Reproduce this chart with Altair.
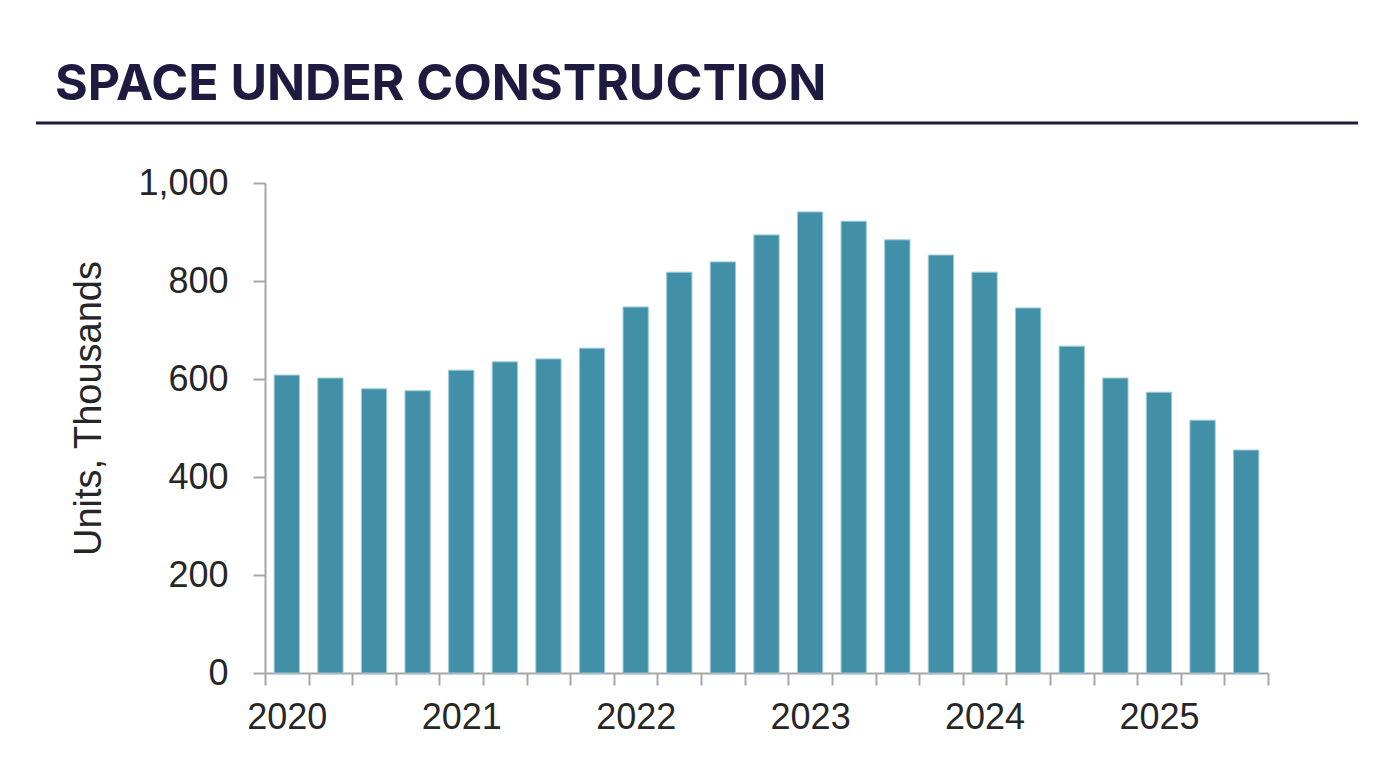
import altair as alt
import pandas as pd

quarters = [f"{y}Q{q}" for y in range(2020, 2026) for q in range(1, 5)][:23]
units = [608, 602, 580, 576, 618, 635, 641, 663, 747, 818, 839, 894,
         941, 922, 884, 853, 818, 745, 667, 602, 573, 516, 455]

df = pd.DataFrame({"quarter": quarters, "units": units})

TXT = "#262626"
GRID = "#A6A6A6"
NAVY = "#1E1A40"

bars = alt.Chart(df).mark_bar(color="#4190A8", stroke="#9CCBD8", strokeWidth=1,
                              width=alt.RelativeBandSize(0.58)).encode(
    x=alt.X("quarter:O", sort=quarters,
            scale=alt.Scale(paddingInner=0, paddingOuter=0),
            axis=alt.Axis(title=None, labelAngle=0, tickBand="extent",
                          labelExpr="indexof(datum.label,'Q1')>=0 ? slice(datum.label,0,4) : ''",
                          labelFont="Liberation Sans", labelFontSize=36, labelColor=TXT,
                          labelPadding=15, tickSize=12, tickWidth=2, tickColor=GRID,
                          domainColor=GRID, domainWidth=2)),
    y=alt.Y("units:Q", scale=alt.Scale(domain=[0, 1000]),
            axis=alt.Axis(title="Units, Thousands", values=[0, 200, 400, 600, 800, 1000],
                          format=",d", grid=False,
                          labelFont="Liberation Sans", labelFontSize=36, labelColor=TXT,
                          labelPadding=25, tickSize=12, tickWidth=2, tickColor=GRID,
                          domainColor=GRID, domainWidth=2,
                          titleFont="Liberation Sans", titleFontSize=38, titleFontWeight="normal",
                          titleColor=TXT, titleAngle=-90, titleX=-165, titleY=225,
                          titleBaseline="alphabetic", titleAlign="center")),
)

title = alt.Chart(pd.DataFrame({"t": ["SPACE UNDER CONSTRUCTION"]})).mark_text(
    font="Inter", fontSize=50, fontWeight=700, color=NAVY, align="left", baseline="alphabetic"
).encode(text="t:N", x=alt.value(-210), y=alt.value(-83))

line = alt.Chart(pd.DataFrame({"a": [0]})).mark_rule(color=NAVY, strokeWidth=3).encode(
    x=alt.value(-229), x2=alt.value(1093), y=alt.value(-60))

chart = alt.layer(bars, title, line).properties(
    width=1003, height=490,
    autosize=alt.AutoSizeParams(type="none"),
    padding={"left": 257, "top": 175, "right": 100, "bottom": 80},
).configure_view(stroke=None)

chart.save("out.html", embed_options={"renderer": "svg", "actions": False})
